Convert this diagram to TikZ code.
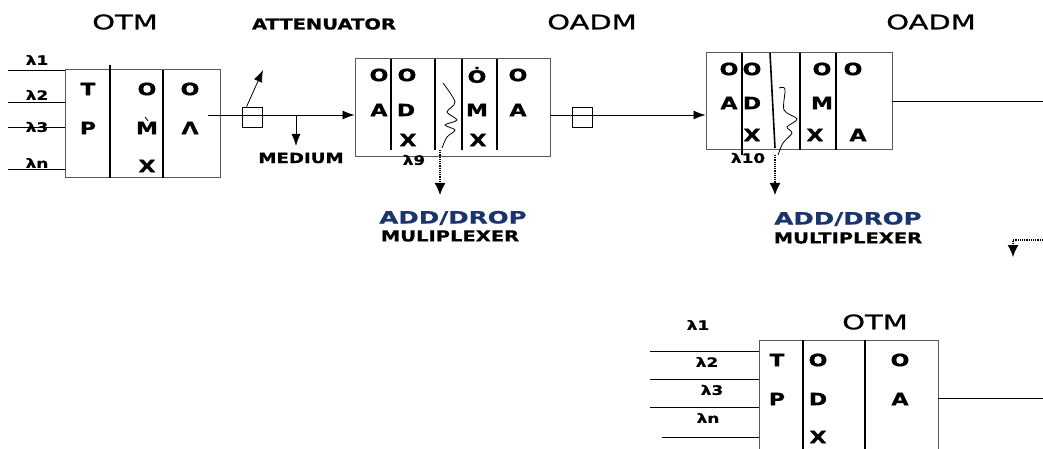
\documentclass[tikz,border=0pt]{standalone}
\usepackage{fontspec}
\setmainfont{DejaVu Sans}
\newfontfamily\titlefont[FakeStretch=1.45,FakeBold=1.2]{DejaVu Sans}
\newfontfamily\labelfont[FakeStretch=1.3,FakeBold=0.8]{DejaVu Sans}
\newfontfamily\adfont[FakeStretch=1.45,FakeBold=0.6]{DejaVu Sans}
\usetikzlibrary{arrows.meta,positioning}
\definecolor{adnavy}{RGB}{28,52,110}
\tikzset{
  unit/.style={draw=black!65, line width=1pt, inner sep=0pt},
  divider/.style={line width=1.6pt},
  ltr/.style={font=\labelfont\bfseries\fontsize{17}{17}\selectfont, inner sep=0pt},
  lam/.style={font=\labelfont\bfseries\fontsize{13}{13}\selectfont, inner sep=0pt},
  heading/.style={font=\titlefont\fontsize{20}{20}\selectfont, inner sep=0pt},
  caption/.style={font=\labelfont\bfseries\fontsize{15}{15}\selectfont, inner sep=0pt},
  adlbl/.style={font=\adfont\bfseries\fontsize{17}{17}\selectfont, text=adnavy, inner sep=0pt},
  fibre/.style={line width=0.8pt},
  head/.style={-{Latex[length=12pt,width=9pt]}},
  droparrow/.style={line width=1.2pt, densely dotted, -{Latex[length=12pt,width=11pt]}},
  atten/.style={draw, line width=0.8pt, minimum width=20pt, minimum height=20pt, inner sep=0pt},
}
\begin{document}
\begin{tikzpicture}[x=1pt,y=-1pt]
\useasboundingbox (0,0) rectangle (1043,449);
\clip (0,0) rectangle (1043,449);

% headings
\node[heading] (otmA) at (125,22) {OTM};
\node[caption] (attlbl) at (324,24) {ATTENUATOR};
\node[heading] (oadmA) at (592,22) {OADM};
\node[heading] (oadmB) at (931,22) {OADM};
\node[heading] (otmB) at (875,322) {OTM};

% transmitting OTM
\node[unit, minimum width=155pt, minimum height=108pt] (otm1) at (142.5,124) {};
\draw[divider] (110,65) -- (110,178);
\draw[divider] (163,70) -- (163,178);
\node[ltr] (t1) at (88,89) {T};
\node[ltr] (p1) at (88,128) {P};
\node[ltr] (o1) at (147,89) {O};
\node[ltr] (m1) at (147,128) {M};
\node[ltr] (x1) at (147,166) {X};
\node[ltr] (o2) at (190,89) {O};
\node[ltr] (a1) at (190,128) {Λ};
\draw[line width=0.8pt] (145,117) -- (148,121);

\foreach \y/\n in {70/a,102/b,127/c,169/d}{
  \coordinate (in\n) at (8,\y);
  \draw[fibre] (in\n) -- (in\n -| otm1.west);
}
\node[lam] (l1) at (37,60) {λ1};
\node[lam] (l2) at (37,95) {λ2};
\node[lam] (l3) at (37,127) {λ3};
\node[lam] (ln) at (37,163) {λn};

% first OADM
\node[unit, minimum width=195pt, minimum height=98pt] (oadm1) at (452.5,108) {};
\draw[divider] (391,59) -- (391,150);
\draw[divider] (435,59) -- (435,150);
\draw[divider] (462,59) -- (462,150);
\draw[divider] (497,59) -- (497,150);
\node[ltr] at (379,75) {O};
\node[ltr] at (379,110) {A};
\node[ltr] at (407,75) {O};
\node[ltr] at (406,110) {D};
\node[ltr] at (408,140) {X};
\node[ltr] at (477,75) {Ȯ};
\node[ltr] at (477,110) {M};
\node[ltr] at (478,140) {X};
\node[ltr] at (518,75) {O};
\node[ltr] at (518,110) {A};
\draw[line width=0.8pt] plot[smooth] coordinates {(443,83) (455,102) (447,112) (457,120) (445,125) (455,130) (447,137) (442,148)};
\node[lam] (l9) at (414,160) {λ9};

% line OTM -> OADM
\coordinate (otm1out) at (208,115);
\node[atten] (att1) at (252,117) {};
\draw[fibre,head] (otm1out) -- (otm1out -| oadm1.west);
\coordinate (atttip) at (263,70);
\draw[fibre,head] ([xshift=5pt]att1.north west) -- (atttip);
\coordinate (tap) at (296,115);
\coordinate (tapend) at (296,146);
\draw[fibre,head] (tap) -- (tapend);
\node[caption, font=\labelfont\bfseries\fontsize{14}{14}\selectfont] (medium) at (301,158) {MEDIUM};

% add/drop 1
\coordinate (drop1) at (440,150);
\coordinate (drop1end) at (440,195);
\draw[droparrow] (drop1) -- (drop1end);
\node[adlbl] (ad1) at (453,218) {ADD/DROP};
\node[caption] (mux1) at (450,236) {MULIPLEXER};

% second OADM
\node[unit, minimum width=186pt, minimum height=97pt] (oadm2) at (799,101.5) {};
\draw[divider] (742,53) -- (742,155);
\draw[divider] (770,53) -- (775,148);
\draw[divider] (800,53) -- (800,150);
\draw[divider] (836,53) -- (836,150);
\node[ltr] at (729,69) {O};
\node[ltr] at (729,103) {A};
\node[ltr] at (752,69) {O};
\node[ltr] at (752,103) {D};
\node[ltr] at (752,135) {X};
\node[ltr] at (822,69) {O};
\node[ltr] at (822,103) {M};
\node[ltr] at (815,135) {X};
\node[ltr] at (853,69) {O};
\node[ltr] at (858,135) {A};
\draw[line width=0.8pt] plot[smooth] coordinates {(779,88) (785,89) (784,110) (797,119) (787,127) (792,133) (783,143) (778,155)};
\node[lam] (l10) at (748,158) {λ10};

% line OADM -> OADM
\coordinate (oadm1out) at (550,115);
\node[atten] (att2) at (582,117) {};
\draw[fibre,head] (oadm1out) -- (oadm1out -| oadm2.west);

% add/drop 2
\coordinate (drop2) at (775,155);
\coordinate (drop2end) at (775,195);
\draw[droparrow] (drop2) -- (drop2end);
\node[adlbl] (ad2) at (848,219) {ADD/DROP};
\node[caption] (mux2) at (848,238) {MULTIPLEXER};

% onward to the edge
\coordinate (oadm2out) at (892,101);
\coordinate (edgeA) at (1043,101);
\draw[fibre] (oadm2out) -- (edgeA);
\coordinate (edgeB) at (1043,240);
\coordinate (bend) at (1013,240);
\coordinate (bendend) at (1013,257);
\draw[droparrow] (edgeB) -- (bend) -- (bendend);

% receiving OTM
\node[unit, minimum width=179pt, minimum height=120pt] (otm2) at (848.5,400) {};
\draw[divider] (803,340) -- (803,449);
\draw[divider] (865,340) -- (865,449);
\node[ltr] at (777,360) {T};
\node[ltr] at (777,399) {P};
\node[ltr] at (818,360) {O};
\node[ltr] at (818,399) {D};
\node[ltr] at (818,437) {X};
\node[ltr] at (900,360) {O};
\node[ltr] at (900,399) {A};
\foreach \y/\x/\n in {351/650/a,379/650/b,407/650/c,437/662/d}{
  \coordinate (rin\n) at (\x,\y);
  \draw[fibre] (rin\n) -- (rin\n -| otm2.west);
}
\node[lam] at (698,325) {λ1};
\node[lam] at (707,362) {λ2};
\node[lam] at (712,390) {λ3};
\node[lam] at (708,418) {λn};
\coordinate (otm2out) at (938,398);
\coordinate (edgeC) at (1043,398);
\draw[fibre] (otm2out) -- (edgeC);
\end{tikzpicture}
\end{document}
